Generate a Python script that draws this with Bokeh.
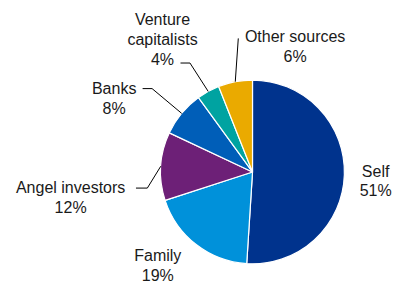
import numpy as np
from bokeh.plotting import figure
from bokeh.models import Range1d, ColumnDataSource
from bokeh.core.properties import value
from bokeh.embed import file_html
from bokeh.resources import INLINE

# ---- data ----
categories = ["Self", "Family", "Angel investors", "Banks", "Venture capitalists", "Other sources"]
label_lines = [["Self"], ["Family"], ["Angel investors"], ["Banks"], ["Venture", "capitalists"], ["Other sources"]]
shares = [51, 19, 12, 8, 4, 6]
colors = ["#00338D", "#0091DA", "#6D2077", "#005EB8", "#00A3A1", "#EAAA00"]

# ---- layout (reference-image pixel coordinates, scaled uniformly to fit) ----
W, H = 401, 288
REF_H = 304
S = H / REF_H
cx, cy_px, R = 266, 181, 97
cy = REF_H - cy_px

# label anchor: centre x, first baseline (ref px)
label_pos = {
    "Self": (396, 180),
    "Family": (166, 269),
    "Angel investors": (74, 197),
    "Banks": (120, 93),
    "Venture capitalists": (171, 20),
    "Other sources": (311, 38),
}
# elbow points of leader lines (ref px); leader ends on slice edge
leader_elbows = {
    "Angel investors": [(143, 198), (155, 198)],
    "Banks": [(150, 93), (160, 93)],
    "Venture capitalists": [(190, 66), (200, 66)],
    "Other sources": [(251, 40)],
}
LINE_STEP = 21

p = figure(width=W, height=H, x_range=Range1d(0, W / S), y_range=Range1d(0, REF_H),
           output_backend="svg", toolbar_location=None, min_border=0)
p.axis.visible = False
p.grid.visible = False
p.outline_line_color = None
p.background_fill_color = "white"
p.border_fill_color = "white"

total = float(sum(shares))
fr = np.array(shares) / total
cum = np.concatenate([[0], np.cumsum(fr)])
start = np.pi / 2 - 2 * np.pi * cum[:-1]
end = np.pi / 2 - 2 * np.pi * cum[1:]

src = ColumnDataSource(dict(start=start, end=end, color=colors))
p.wedge(x=cx, y=cy, radius=R, start_angle="start", end_angle="end", direction="clock",
        fill_color="color", line_color="white", line_width=1.2, source=src)

# leader lines
xs, ys = [], []
for i, c in enumerate(categories):
    if c in leader_elbows:
        mid = (start[i] + end[i]) / 2
        ex = cx + R * np.cos(mid)
        ey = cy + R * np.sin(mid)
        pts = leader_elbows[c]
        xs.append([pt[0] for pt in pts] + [ex])
        ys.append([REF_H - pt[1] for pt in pts] + [ey])
p.multi_line(xs=xs, ys=ys, line_color="black", line_width=1)

# labels
tx, ty, tt = [], [], []
for i, c in enumerate(categories):
    lx, ly = label_pos[c]
    lines = label_lines[i] + [f"{shares[i]}%"]
    for k, s in enumerate(lines):
        tx.append(lx)
        ty.append(REF_H - (ly + k * LINE_STEP))
        tt.append(s)
p.text(x=tx, y=ty, text=tt, text_align="center", text_baseline="alphabetic",
       text_font=value("Liberation Sans"), text_font_size="16px", text_color="#1a1a1a")

open("out.html", "w").write(file_html(p, INLINE))
